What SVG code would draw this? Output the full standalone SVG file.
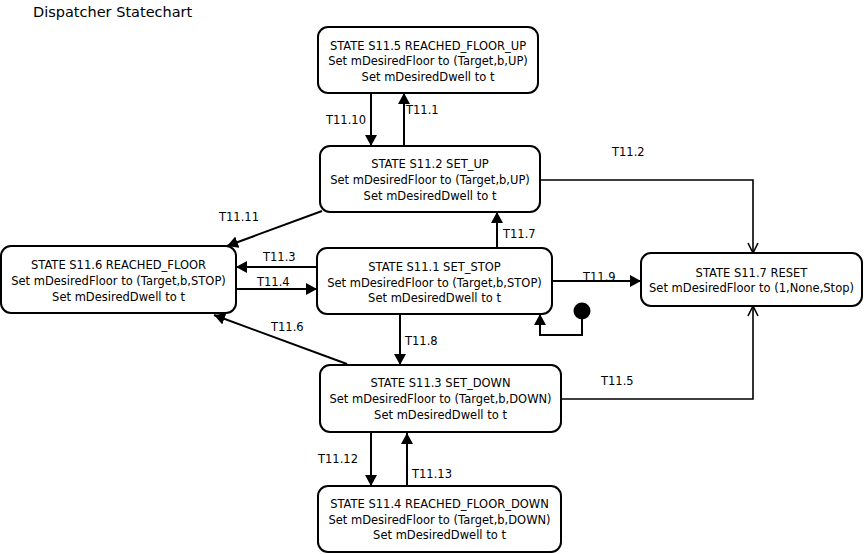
<svg xmlns="http://www.w3.org/2000/svg" width="864" height="554" viewBox="0 0 864 554">
<style>
.box{fill:#fff;stroke:#000;stroke-width:2}
text{font-family:"DejaVu Sans",Verdana,sans-serif;font-size:11.5px;fill:#000}
.st text{text-anchor:middle}
.title{font-size:14.5px}
.c{fill:none;stroke:#000;stroke-width:2}
.o{fill:none;stroke:#000;stroke-width:1.6}
</style>
<defs>
<marker id="f" markerUnits="userSpaceOnUse" viewBox="0 0 11 12" markerWidth="11" markerHeight="12" refX="11" refY="6" orient="auto"><path d="M0,0 L11,6 L0,12 z" fill="#000"/></marker>
<marker id="v" markerUnits="userSpaceOnUse" viewBox="-1 -1 12 12" markerWidth="12" markerHeight="12" refX="10" refY="5" orient="auto"><path d="M0,0 L10,5 L0,10" fill="none" stroke="#000" stroke-width="1.6"/></marker>
</defs>
<rect width="864" height="554" fill="#fff"/>
<text class="title" x="33" y="17">Dispatcher Statechart</text>

<g id="connectors">
<path class="c" d="M371,93 L371,146" marker-end="url(#f)"/>
<path class="c" d="M404,146 L404,93" marker-end="url(#f)"/>
<path class="o" d="M540,180 L753,180 L753,253" marker-end="url(#v)"/>
<path class="c" d="M322,211 L227,246" marker-end="url(#f)"/>
<path class="c" d="M317,267 L236,267" marker-end="url(#f)"/>
<path class="c" d="M236,289 L317,289" marker-end="url(#f)"/>
<path class="c" d="M347,364 L214,315" marker-end="url(#f)"/>
<path class="c" d="M497,248 L497,212" marker-end="url(#f)"/>
<path class="c" d="M400,314 L400,365" marker-end="url(#f)"/>
<path class="c" d="M552,281 L641,281" marker-end="url(#f)"/>
<path class="o" d="M561,399 L753,399 L753,306" marker-end="url(#v)"/>
<path class="c" d="M371,433 L371,486" marker-end="url(#f)"/>
<path class="c" d="M407,486 L407,433" marker-end="url(#f)"/>
<circle cx="582" cy="311" r="8.5" fill="#000"/>
<path class="c" d="M582,311 L582,335 L540,335 L540,314" marker-end="url(#f)"/>
<text x="326" y="124">T11.10</text>
<text x="406" y="114">T11.1</text>
<text x="612" y="156">T11.2</text>
<text x="219" y="221">T11.11</text>
<text x="263" y="261">T11.3</text>
<text x="257" y="286">T11.4</text>
<text x="271" y="331">T11.6</text>
<text x="503" y="238">T11.7</text>
<text x="405" y="345">T11.8</text>
<text x="583" y="281">T11.9</text>
<text x="601" y="385">T11.5</text>
<text x="318" y="463">T11.12</text>
<text x="412" y="478">T11.13</text>
</g>

<g id="S11_5" class="st">
<rect class="box" x="318" y="27" width="220" height="66" rx="10"/>
<text x="428" y="49.5">STATE S11.5 REACHED_FLOOR_UP</text>
<text x="428" y="65">Set mDesiredFloor to (Target,b,UP)</text>
<text x="428" y="80.5">Set mDesiredDwell to t</text>
</g>
<g id="S11_2" class="st">
<rect class="box" x="320" y="146" width="220" height="66" rx="10"/>
<text x="430" y="168">STATE S11.2 SET_UP</text>
<text x="430" y="184">Set mDesiredFloor to (Target,b,UP)</text>
<text x="430" y="199.5">Set mDesiredDwell to t</text>
</g>
<g id="S11_6" class="st">
<rect class="box" x="1" y="246" width="235" height="67" rx="10"/>
<text x="118.5" y="268.5">STATE S11.6 REACHED_FLOOR</text>
<text x="118.5" y="285">Set mDesiredFloor to (Target,b,STOP)</text>
<text x="118.5" y="301">Set mDesiredDwell to t</text>
</g>
<g id="S11_1" class="st">
<rect class="box" x="317" y="248" width="235" height="66" rx="10"/>
<text x="434.5" y="271">STATE S11.1 SET_STOP</text>
<text x="434.5" y="287">Set mDesiredFloor to (Target,b,STOP)</text>
<text x="434.5" y="302">Set mDesiredDwell to t</text>
</g>
<g id="S11_7" class="st">
<rect class="box" x="641" y="253" width="221" height="53" rx="10"/>
<text x="751.5" y="277">STATE S11.7 RESET</text>
<text x="751.5" y="292">Set mDesiredFloor to (1,None,Stop)</text>
</g>
<g id="S11_3" class="st">
<rect class="box" x="320" y="365" width="241" height="67" rx="10"/>
<text x="440.5" y="387">STATE S11.3 SET_DOWN</text>
<text x="440.5" y="403">Set mDesiredFloor to (Target,b,DOWN)</text>
<text x="440.5" y="418.5">Set mDesiredDwell to t</text>
</g>
<g id="S11_4" class="st">
<rect class="box" x="318" y="486" width="243" height="66" rx="10"/>
<text x="439.5" y="508">STATE S11.4 REACHED_FLOOR_DOWN</text>
<text x="439.5" y="523.5">Set mDesiredFloor to (Target,b,DOWN)</text>
<text x="439.5" y="539">Set mDesiredDwell to t</text>
</g>
</svg>
